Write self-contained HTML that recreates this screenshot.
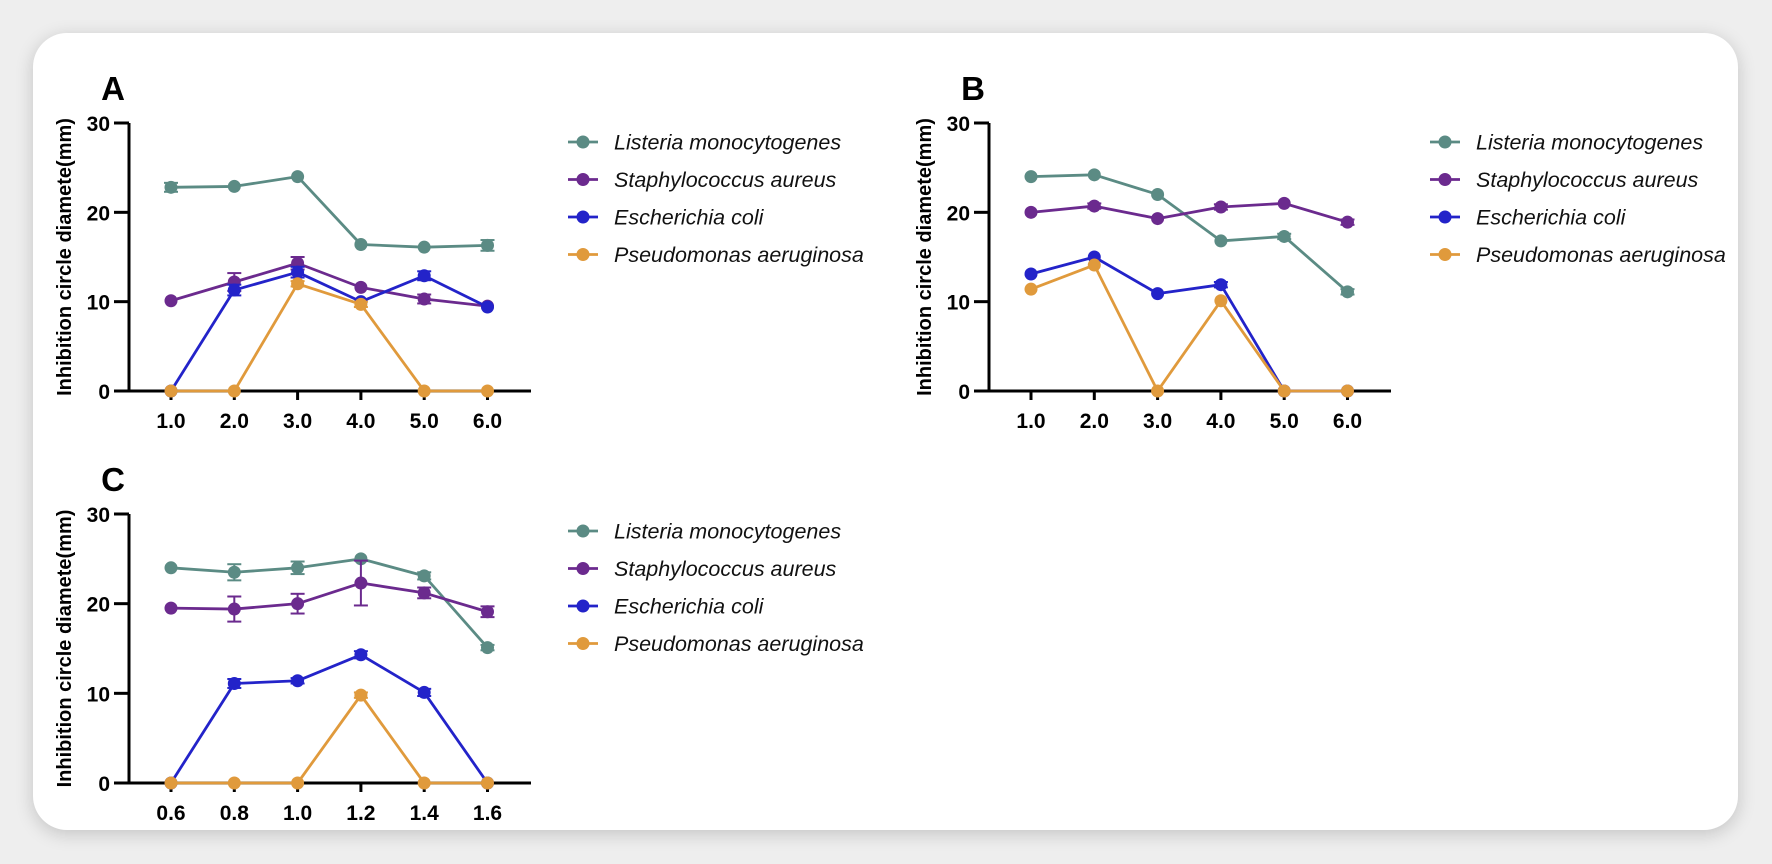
<!DOCTYPE html>
<html><head><meta charset="utf-8">
<style>
html,body{margin:0;padding:0;background:#eeeeee;}
body{width:1772px;height:864px;position:relative;overflow:hidden;font-family:"Liberation Sans",sans-serif;}
#card{position:absolute;left:33px;top:33px;width:1705px;height:797px;background:#fff;border-radius:34px;box-shadow:0 4px 18px rgba(0,0,0,0.18);}
svg{position:absolute;left:0;top:0;}
</style></head>
<body>
<div id="card"></div>
<svg id="fig" width="1772" height="864"></svg>
<script>
const seriesNames = ["Listeria monocytogenes","Staphylococcus aureus","Escherichia coli","Pseudomonas aeruginosa"];
const colors = ["#5b8b84","#6b2a8e","#2323c9","#e09a3c"];
const yTicks = [0,10,20,30];
const catsA = ["1.0","2.0","3.0","4.0","5.0","6.0"];
const catsB = ["1.0","2.0","3.0","4.0","5.0","6.0"];
const catsC = ["0.6","0.8","1.0","1.2","1.4","1.6"];
const A_listeria = [22.8,22.9,24.0,16.4,16.1,16.3];
const A_staph = [10.1,12.2,14.3,11.6,10.3,9.5];
const A_ecoli = [0,11.3,13.3,10.0,12.9,9.4];
const A_pseudo = [0,0,12.0,9.7,0,0];
const A_err = [[0.5,0.2,0.2,0.2,0.2,0.6],[0.2,1.0,0.7,0.2,0.5,0.2],[0,0.6,0.6,0.2,0.5,0.2],[0,0,0.3,0.3,0,0]];
const B_listeria = [24.0,24.2,22.0,16.8,17.3,11.1];
const B_staph = [20.0,20.7,19.3,20.6,21.0,18.9];
const B_ecoli = [13.1,15.0,10.9,11.9,0,0];
const B_pseudo = [11.4,14.1,0,10.1,0,0];
const B_err = [[0.2,0.2,0.2,0.2,0.3,0.3],[0.2,0.3,0.2,0.3,0.2,0.3],[0.2,0.2,0.2,0.3,0,0],[0.2,0.2,0,0.2,0,0]];
const C_listeria = [24.0,23.5,24.0,25.0,23.1,15.1];
const C_staph = [19.5,19.4,20.0,22.3,21.2,19.1];
const C_ecoli = [0,11.1,11.4,14.3,10.1,0];
const C_pseudo = [0,0,0,9.8,0,0];
const C_err = [[0.2,0.9,0.7,0.2,0.4,0.3],[0.2,1.4,1.1,2.5,0.6,0.6],[0,0.5,0.3,0.4,0.4,0],[0,0,0,0.3,0,0]];

const NS="http://www.w3.org/2000/svg";
const svg=document.getElementById('fig');
function mk(tag,attrs,parent){const e=document.createElementNS(NS,tag);for(const k in attrs)e.setAttribute(k,attrs[k]);(parent||svg).appendChild(e);return e;}

function panel(letter,ax,y30,y0,cats,series,errs,legX,legY){
  const g=mk('g',{});
  
  
  const x0=ax+42, dx=63.3, xEnd=ax+402;
  const X=i=>x0+i*dx;
  const Y=v=>y0-(v/30)*(y0-y30);
  const lt=mk('text',{x:ax-16,y:y30-23,'font-size':33,'font-weight':'bold','text-anchor':'middle',fill:'#000'},g);
  lt.textContent=letter;
  
  
  const ya=mk('line',{x1:ax,y1:y30,x2:ax,y2:y0,stroke:'#000','stroke-width':3},g);
  
  
  const xa=mk('line',{x1:ax,y1:y0,x2:xEnd,y2:y0,stroke:'#000','stroke-width':3},g);
  
  
  yTicks.forEach(t=>{
    mk('line',{x1:ax-15,y1:Y(t),x2:ax,y2:Y(t),stroke:'#000','stroke-width':3},g);
    const tx=mk('text',{x:ax-19,y:Y(t)+8,'font-size':21,'font-weight':'bold','text-anchor':'end'},g);
    tx.textContent=t;
    
    
  });
  cats.forEach((c,i)=>{
    mk('line',{x1:X(i),y1:y0,x2:X(i),y2:y0+9,stroke:'#000','stroke-width':3},g);
    const tx=mk('text',{x:X(i),y:y0+37,'font-size':21,'font-weight':'bold','text-anchor':'middle'},g);
    tx.textContent=c;
    
    
  });
  const cy=(y0+y30)/2, tX=ax-58;
  const yt=mk('text',{x:tX,y:cy,'font-size':20,'font-weight':'bold','text-anchor':'middle',transform:`rotate(-90 ${tX} ${cy})`},g);
  yt.textContent='Inhibition circle diamete(mm)';
  
  
  series.forEach((vals,s)=>{
    const sg=mk('g',{},g);
    
    
    mk('polyline',{points:vals.map((v,i)=>X(i)+','+Y(v)).join(' '),fill:'none',stroke:colors[s],'stroke-width':2.8,'stroke-linejoin':'round'},sg);
    vals.forEach((v,i)=>{
      const e=errs[s][i];
      if(e>0.25){
        mk('line',{x1:X(i),y1:Y(v+e),x2:X(i),y2:Y(v-e),stroke:colors[s],'stroke-width':2},sg);
        mk('line',{x1:X(i)-7,y1:Y(v+e),x2:X(i)+7,y2:Y(v+e),stroke:colors[s],'stroke-width':2},sg);
        mk('line',{x1:X(i)-7,y1:Y(v-e),x2:X(i)+7,y2:Y(v-e),stroke:colors[s],'stroke-width':2},sg);
      }
      const c=mk('circle',{cx:X(i),cy:Y(v),r:6.5,fill:colors[s]},sg);
      
      
    });
  });
  const lg=mk('g',{},g);
  
  
  seriesNames.forEach((n,s)=>{
    const yy=legY+s*37.5;
    const eg=mk('g',{},lg);
    
    
    mk('line',{x1:legX,y1:yy,x2:legX+30,y2:yy,stroke:colors[s],'stroke-width':2.8},eg);
    mk('circle',{cx:legX+15,cy:yy,r:6.5,fill:colors[s]},eg);
    const t=mk('text',{x:legX+46,y:yy+7.5,'font-size':21.5,'font-style':'italic',fill:'#111'},eg);
    t.textContent=n;
  });
}
panel('A',129,123,391,catsA,[A_listeria,A_staph,A_ecoli,A_pseudo],A_err,568,142);
panel('B',989,123,391,catsB,[B_listeria,B_staph,B_ecoli,B_pseudo],B_err,1430,142);
panel('C',129,514,783,catsC,[C_listeria,C_staph,C_ecoli,C_pseudo],C_err,568,531);
</script>
</body></html>
